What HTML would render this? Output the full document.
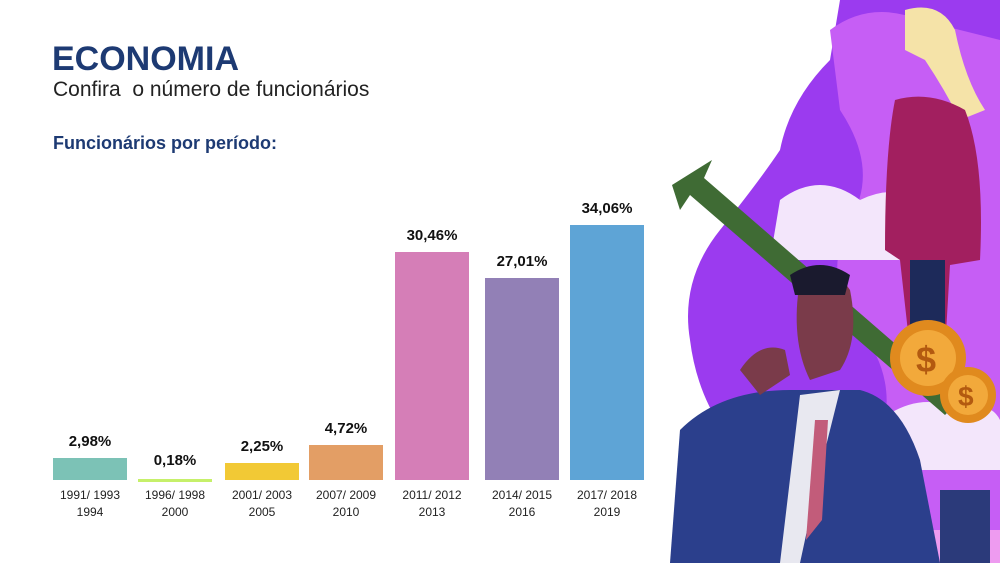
<!DOCTYPE html>
<html><head><meta charset="utf-8"><style>
body{margin:0;width:1000px;height:563px;overflow:hidden;background:#fff;font-family:"Liberation Sans",Arial,sans-serif;position:relative}
.t{position:absolute;margin:0}
</style></head><body>
<svg style="position:absolute;left:0;top:0" width="1000" height="563">
<path d="M840 0 L1000 0 L1000 563 L870 563 Q800 520 760 470 Q700 420 690 340 Q680 280 720 230 Q760 180 780 150 Q790 100 830 60 Z" fill="#9b3bef"/>
<path d="M830 30 Q870 0 920 20 L1000 40 L1000 563 L910 563 Q860 500 880 440 Q900 380 860 330 Q820 280 850 220 Q880 170 840 110 Z" fill="#c65ef5"/>
<path d="M780 200 Q820 170 860 200 Q900 180 940 210 L940 260 L770 260 Z" fill="#f3e6fb"/>
<path d="M880 420 Q920 390 960 410 Q990 400 1000 420 L1000 470 L880 470Z" fill="#f3e6fb"/>
<path d="M868 530 L1000 530 L1000 563 L868 563Z" fill="#ee9bf0"/>
<polygon points="672,185 712,160 704,178 960,400 945,415 690,195 680,210" fill="#3f6b34"/>
<path d="M905 10 Q940 0 955 30 Q965 80 985 110 L960 120 Q945 90 925 60 L905 50Z" fill="#f5e3a8"/>
<path d="M895 100 Q930 90 965 110 Q985 160 980 260 L950 265 L945 350 L910 350 L900 260 L885 250 Q885 150 895 100Z" fill="#a21f5f"/>
<path d="M910 260 L945 260 L945 360 L910 360Z" fill="#1d2a5a"/>
<circle cx="928" cy="358" r="38" fill="#e08a1e"/><circle cx="928" cy="358" r="28" fill="#f2a93b"/>
<text x="916" y="372" font-size="36" font-weight="bold" fill="#b35a10">$</text>
<circle cx="968" cy="395" r="28" fill="#e08a1e"/><circle cx="968" cy="395" r="20" fill="#f2a93b"/>
<text x="958" y="406" font-size="28" font-weight="bold" fill="#b35a10">$</text>
<path d="M800 280 Q830 260 850 290 Q860 340 840 370 L810 380 Q790 340 800 280Z" fill="#7a3b4a"/>
<path d="M790 275 Q820 255 850 275 L845 295 L795 295Z" fill="#1a1a2e"/>
<path d="M680 430 Q720 390 790 390 L860 390 Q900 400 920 460 L940 563 L670 563Z" fill="#2b3f8c"/>
<path d="M800 395 L840 390 L820 470 L800 563 L780 563Z" fill="#e8e8f0"/>
<path d="M815 420 L828 420 L822 520 L806 540Z" fill="#c25c7a"/>
<path d="M740 370 Q760 340 785 350 L790 375 L760 395Z" fill="#7a3b4a"/>
<rect x="940" y="490" width="50" height="73" fill="#2b3a7a"/>
</svg>
<h1 class="t" style="left:52px;top:40px;font-size:34px;font-weight:bold;color:#1d3a73">ECONOMIA</h1>
<p class="t" style="left:53px;top:78px;font-size:21px;color:#222">Confira&nbsp; o número de funcionários</p>
<p class="t" style="left:53px;top:133px;font-size:18px;font-weight:bold;color:#1d3a73">Funcionários por período:</p>
<div id="chart"></div>
<script>
const categoriesA=["1991/ 1993","1996/ 1998","2001/ 2003","2007/ 2009","2011/ 2012","2014/ 2015","2017/ 2018"];
const categoriesB=["1994","2000","2005","2010","2013","2016","2019"];
const values=[2.98,0.18,2.25,4.72,30.46,27.01,34.06];
const labels=["2,98%","0,18%","2,25%","4,72%","30,46%","27,01%","34,06%"];
const colors=["#7cc2b6","#c6f06a","#f2c935","#e39e65","#d57eb7","#9280b6","#5ea4d6"];
const base=480, pxPer=7.49;
const xs=[53,138,225,309,395,485,570], w=74;
const y=v=>base-v*pxPer;
const c=document.getElementById('chart');
values.forEach((v,i)=>{
 const b=document.createElement('div');
 
 
 b.style.cssText=`position:absolute;left:${xs[i]}px;top:${y(v)}px;width:${w}px;height:${Math.max(base-y(v),3)}px;background:${colors[i]}`;
 c.appendChild(b);
 const l=document.createElement('div');
 
 
 l.style.cssText=`position:absolute;left:${xs[i]-10}px;width:${w+20}px;text-align:center;top:${Math.min(y(v),base-3)-25}px;font-size:15px;font-weight:bold;color:#111`;
 l.textContent=labels[i];c.appendChild(l);
 const t=document.createElement('div');
 
 
 t.style.cssText=`position:absolute;left:${xs[i]-10}px;width:${w+20}px;text-align:center;top:487px;font-size:12px;line-height:17px;color:#222`;
 t.innerHTML=categoriesA[i]+'<br>'+categoriesB[i];c.appendChild(t);
});
</script>
</body></html>
